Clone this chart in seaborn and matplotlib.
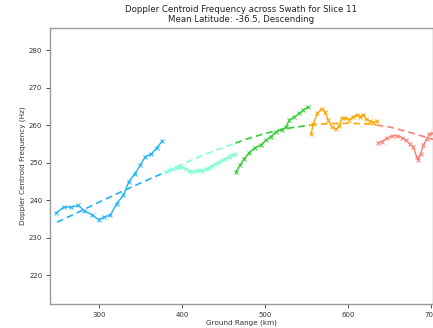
import matplotlib
matplotlib.use("Agg")
import matplotlib.pyplot as plt
import seaborn as sns
import pandas as pd

# ---- data ----
blue_x = [248, 257.6, 265.7, 274.5, 281.8, 291, 299.2, 306, 313.3, 321, 329, 335.5, 342.4, 349.3, 355.4, 362.6, 369.4, 376]
blue_y = [236.6, 238.2, 238.1, 238.6, 237.2, 236.1, 234.8, 235.5, 236.0, 239.1, 241.3, 244.9, 246.9, 249.3, 251.6, 252.3, 254.0, 255.8]

cyan_x = [380, 384, 388, 392, 396, 400, 404, 408, 412, 416, 420, 424, 428, 432, 436, 440, 444, 448, 452, 456, 460, 463]
cyan_y = [247.5, 248.0, 248.3, 248.6, 248.9, 248.8, 248.4, 247.9, 247.6, 247.9, 248.0, 247.8, 248.2, 248.7, 249.2, 249.6, 250.2, 250.6, 251.0, 251.6, 252.0, 252.4]

green_x = [464.3, 469.5, 474.7, 480.7, 487.6, 494.5, 500.8, 506.5, 512.9, 519.8, 524.6, 528.9, 534.6, 541, 545.8, 551.8]
green_y = [247.4, 249.3, 251.1, 252.7, 254.0, 254.7, 256.0, 256.9, 258.2, 258.8, 259.4, 261.3, 262.1, 263.1, 264.0, 264.9]

orange_x = [555.1, 557.8, 562.7, 567.9, 571.9, 575.9, 580, 585.2, 589.2, 592, 596, 601.2, 606, 610.1, 614.1, 618.1, 621.3, 626.1, 630.1, 634.2]
orange_y = [257.6, 260.4, 263.1, 264.4, 263.5, 261.3, 259.6, 258.9, 259.8, 261.8, 261.9, 261.5, 262.2, 262.8, 262.2, 262.8, 261.6, 261.1, 260.7, 261.1]

red_x = [635.5, 640.2, 646.2, 652.3, 658.3, 664.3, 669.5, 674.3, 678.4, 682.4, 684.3, 687.2, 690.4, 694.5, 697.6, 701]
red_y = [255.3, 255.6, 256.5, 257.1, 257.2, 256.7, 256.0, 254.9, 254.2, 251.5, 250.8, 252.4, 254.7, 256.4, 257.6, 257.8]

# fitted trend (dashed), read per segment
blue_fit_x = [249, 275, 300, 325, 350, 381]
blue_fit_y = [234.1, 236.8, 239.5, 242.1, 244.6, 247.6]
cyan_fit_x = [381, 400, 425, 450, 464]
cyan_fit_y = [247.6, 249.6, 252.0, 254.1, 255.2]
green_fit_x = [464, 475, 500, 525, 554]
green_fit_y = [255.2, 256.1, 257.8, 259.1, 260.0]
orange_fit_x = [554, 575, 600, 625, 634]
orange_fit_y = [260.0, 260.4, 260.5, 260.3, 260.0]
red_fit_x = [634, 650, 675, 702]
red_fit_y = [260.0, 259.5, 258.0, 256.2]

colors = ["#1eb4fa", "#7fffd4", "#32cd32", "#ffa500", "#fa8072"]

title = "Doppler Centroid Frequency across Swath for Slice 11\nMean Latitude: -36.5, Descending"
xlabel = "Ground Range (km)"
ylabel = "Doppler Centroid Frequency (Hz)"
xticks = [300, 400, 500, 600, 700]
yticks = [220, 230, 240, 250, 260, 270, 280]

sns.set_theme(style="white")
plt.rcParams['font.family'] = ['DejaVu Sans']

fig = plt.figure(figsize=(4.33, 3.28), dpi=100)
ax = fig.add_axes([50/433, 1 - 304/328, 383/433, 276/328])

data_sets = [(blue_x, blue_y), (cyan_x, cyan_y), (green_x, green_y), (orange_x, orange_y), (red_x, red_y)]
fit_sets = [(blue_fit_x, blue_fit_y), (cyan_fit_x, cyan_fit_y), (green_fit_x, green_fit_y),
            (orange_fit_x, orange_fit_y), (red_fit_x, red_fit_y)]

for (x, y), (fx, fy), c in zip(data_sets, fit_sets, colors):
    df = pd.DataFrame({"x": x, "y": y})
    sns.lineplot(data=df, x="x", y="y", ax=ax, color=c, marker="x", markersize=3.2,
                 markeredgewidth=0.7, markeredgecolor=c, linewidth=1.0,
                 sort=False, estimator=None)
    dff = pd.DataFrame({"x": fx, "y": fy})
    sns.lineplot(data=dff, x="x", y="y", ax=ax, color=c, linewidth=1.2,
                 linestyle=(0, (4, 2.5)), sort=False, estimator=None)

ax.set_xlim(240.6, 702)
ax.set_ylim(212.3, 285.9)
ax.set_xticks(xticks)
ax.set_yticks(yticks)
ax.tick_params(axis="both", labelsize=5, colors="#333333", length=3, width=0.6,
               bottom=True, left=True, pad=2.5)
for s in ax.spines.values():
    s.set_color("#999999")
    s.set_linewidth(1.0)
ax.set_xlabel(xlabel, fontsize=5.2, color="#333333", labelpad=1.5)
ax.set_ylabel(ylabel, fontsize=5.2, color="#333333", labelpad=2)
ax.set_title(title, fontsize=6.2, color="#222222", pad=4, linespacing=1.15)

fig.savefig("out.png", dpi=100)
